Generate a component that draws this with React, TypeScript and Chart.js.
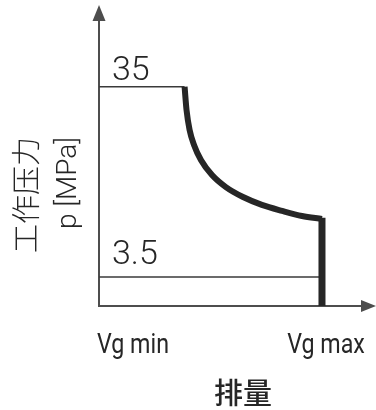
import React, { useEffect, useRef } from 'react';
import { Chart, registerables } from 'chart.js';

Chart.register(...registerables);

// ---- data (relative units) ----
const curveX = [30.9, 31.6, 32.7, 34.3, 36.8, 40.8, 45.8, 52.0, 58.8, 66.1, 73.3, 80.5];
const curveY = [72.8, 65.1, 58.5, 53.5, 48.5, 43.5, 39.5, 36.2, 33.6, 31.6, 29.9, 28.9];
const levelLabels = ['35', '3.5'];
const levelValues = [72.8, 9.6];
const levelEndX = [30.9, 80.5];
const xTickLabels = ['Vg min', 'Vg max'];
const xTickValues = [0, 80.5];
const vgMax = 80.5;
const yTitle = '工作压力';
const yUnit = 'p [MPa]';
const xTitle = '排量';

const INK = '#262626';
const AXIS = '#4d4d4d';

const annotPlugin = {
  id: 'annot',
  beforeDatasetsDraw(chart: any) {
    const { ctx, chartArea } = chart;
    const x0 = chartArea.left;
    const y0 = chartArea.bottom;
    ctx.save();
    ctx.strokeStyle = AXIS;
    ctx.fillStyle = AXIS;
    ctx.lineWidth = 2;
    // y axis
    ctx.beginPath();
    ctx.moveTo(x0, y0 + 1);
    ctx.lineTo(x0, chartArea.top + 14);
    ctx.stroke();
    ctx.beginPath();
    ctx.moveTo(x0, chartArea.top);
    ctx.lineTo(x0 - 6.5, chartArea.top + 16);
    ctx.lineTo(x0 + 6.5, chartArea.top + 16);
    ctx.closePath();
    ctx.fill();
    // x axis
    ctx.beginPath();
    ctx.moveTo(x0 - 1, y0);
    ctx.lineTo(chartArea.right - 12, y0);
    ctx.stroke();
    ctx.beginPath();
    ctx.moveTo(chartArea.right, y0);
    ctx.lineTo(chartArea.right - 15, y0 - 6);
    ctx.lineTo(chartArea.right - 15, y0 + 6);
    ctx.closePath();
    ctx.fill();
    ctx.restore();
  },
  afterDatasetsDraw(chart: any) {
    const { ctx, chartArea, scales } = chart;
    const xs = scales.x;
    const ys = scales.y;
    const x0 = chartArea.left;
    ctx.save();
    ctx.fillStyle = INK;
    // level labels
    const gaps = [6.5, 13.5];
    ctx.font = '300 34px Roboto, "Liberation Sans", sans-serif';
    ctx.textAlign = 'left';
    ctx.textBaseline = 'alphabetic';
    levelLabels.forEach((t, i) => {
      ctx.fillText(t, x0 + 13, ys.getPixelForValue(levelValues[i]) - gaps[i]);
    });
    // x tick labels (condensed look via horizontal squeeze)
    ctx.font = '28px Roboto, sans-serif';
    const base = chartArea.bottom + 47;
    const squeeze = 0.83;
    xTickLabels.forEach((t, i) => {
      const px = xs.getPixelForValue(xTickValues[i]);
      ctx.save();
      if (i === 0) {
        ctx.translate(px - 2, base);
        ctx.scale(squeeze, 1);
        ctx.textAlign = 'left';
      } else {
        ctx.translate(px + 4, base);
        ctx.scale(squeeze, 1);
        ctx.textAlign = 'center';
      }
      ctx.fillText(t, 0, 0);
      ctx.restore();
    });
    // x title
    ctx.font = '500 29px "Noto Sans CJK SC", sans-serif';
    ctx.textAlign = 'center';
    ctx.textBaseline = 'middle';
    ctx.fillText(xTitle, 243, chartArea.bottom + 87);
    // y titles (rotated)
    ctx.save();
    ctx.translate(25.5, 195);
    ctx.rotate(-Math.PI / 2);
    ctx.font = '300 29px "Noto Sans CJK SC", sans-serif';
    ctx.fillText(yTitle, 0, 0);
    ctx.restore();
    ctx.save();
    ctx.translate(69, 183);
    ctx.rotate(-Math.PI / 2);
    ctx.font = '300 28px Roboto, sans-serif';
    ctx.fillText(yUnit, 0, 0);
    ctx.restore();
    ctx.restore();
  },
};

export default function App() {
  const ref = useRef<HTMLCanvasElement>(null);
  useEffect(() => {
    document.body.style.margin = '0';
    const canvas = ref.current!;
    const curve = curveX.map((x, i) => ({ x, y: curveY[i] }));
    const chart = new Chart(canvas, {
      type: 'scatter',
      data: {
        datasets: [
          {
            data: curve,
            showLine: true,
            borderColor: INK,
            borderWidth: 6,
            pointRadius: 0,
            cubicInterpolationMode: 'monotone',
            borderCapStyle: 'butt',
            clip: false,
            order: 1,
          } as any,
          {
            data: [
              { x: vgMax, y: curveY[curveY.length - 1] + 0.4 },
              { x: vgMax, y: 0 },
            ],
            showLine: true,
            borderColor: INK,
            borderWidth: 7,
            pointRadius: 0,
            clip: false,
            order: 1,
          } as any,
          ...levelValues.map((v, i) => ({
            data: [
              { x: 0, y: v },
              { x: levelEndX[i], y: v },
            ],
            showLine: true,
            borderColor: '#3a3a3a',
            borderWidth: 1.5,
            pointRadius: 0,
            clip: false,
            order: 2,
          })) as any,
        ],
      },
      options: {
        animation: false,
        responsive: false,
        devicePixelRatio: 1,
        layout: { padding: { left: 99, right: 0, top: 5, bottom: 104 } },
        plugins: { legend: { display: false }, tooltip: { enabled: false } },
        scales: {
          x: { type: 'linear', min: 0, max: 100, display: false },
          y: { type: 'linear', min: 0, max: 100, display: false },
        },
      },
      plugins: [annotPlugin],
    });
    return () => chart.destroy();
  }, []);
  return (
    <div style={{ width: 376, height: 410, background: '#fff' }}>
      <canvas ref={ref} width={376} height={410} />
    </div>
  );
}
